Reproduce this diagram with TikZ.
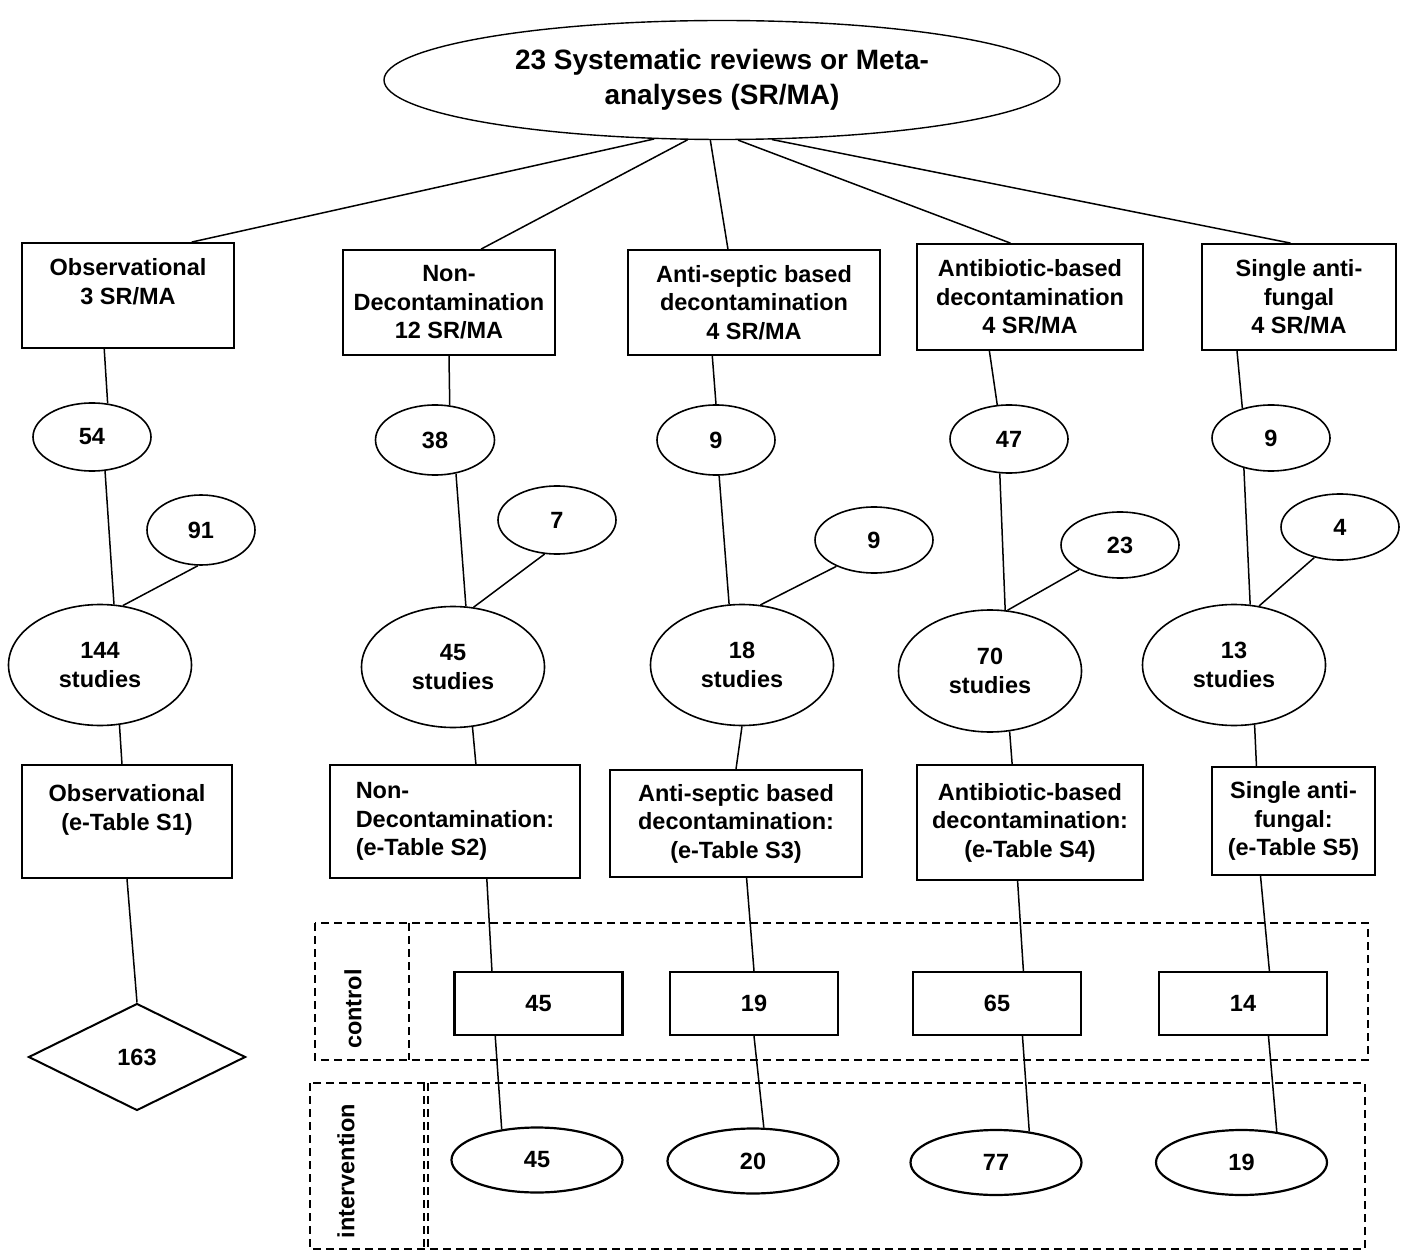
\documentclass[tikz,border=0pt]{standalone}
\usepackage{fontspec}
\setmainfont{Liberation Sans}
\usetikzlibrary{shapes.geometric}
\tikzset{
  box/.style={draw, line width=0.9pt, inner sep=0pt, align=center},
  oval/.style={draw, ellipse, line width=0.8pt, inner sep=0pt, align=center},
  num/.style={oval, minimum width=59pt, minimum height=34pt},
  stud/.style={oval, minimum width=91.5pt, minimum height=60.5pt},
  ctrl/.style={box, line width=1.1pt, minimum width=84pt, minimum height=31.5pt},
  intv/.style={oval, line width=1.1pt, minimum width=85.5pt, minimum height=32.5pt},
  link/.style={line width=0.75pt},
  zone/.style={dash pattern=on 4pt off 2.5pt, line width=0.6pt}
}

\begin{document}
\begin{tikzpicture}[x=0.5pt, y=-0.5pt, font=\bfseries\fontsize{11.75}{14.25}\selectfont]
\useasboundingbox (0,0) rectangle (1408,1251);

% dashed zones
\draw[zone] (315,923) rectangle (1368,1060);
\draw[zone] (409,923) -- (409,1060);
\draw[zone] (310,1083) rectangle (1365,1249);
\draw[zone] (424,1083) -- (424,1249);
\draw[zone] (428,1083) -- (428,1249);
\node[rotate=90] (lctrl) at (353,1009) {control};
\node[rotate=90] (lintv) at (346,1171) {intervention};

% top
\node[oval, line width=0.7pt, minimum width=338pt, minimum height=59.5pt,
  font=\bfseries\fontsize{14}{17.3}\selectfont] (top) at (722,80) {23 Systematic reviews or Meta-\\analyses (SR/MA)};

% groups
\node[box, minimum width=106pt, minimum height=52.5pt] (obs) at (128,295.5) {Observational\\3 SR/MA\\ \mbox{}};
\node[box, minimum width=106pt, minimum height=52.5pt] (ndec) at (449,302.5) {Non-\\Decontamination\\12 SR/MA};
\node[box, minimum width=126pt, minimum height=52.5pt] (asep) at (754,302.5) {Anti-septic based\\decontamination\\4 SR/MA};
\node[box, minimum width=113pt, minimum height=53pt] (abio) at (1030,297) {Antibiotic-based\\decontamination\\4 SR/MA};
\node[box, minimum width=97pt, minimum height=53pt] (sing) at (1299,297) {Single anti-\\fungal\\4 SR/MA};

% observational
\node[num] (n54) at (92,437) {54};
\node[oval, minimum width=54pt, minimum height=35pt] (n91) at (201,530) {91};
\node[stud] (s144) at (100,665) {144\\studies};
\node[box, minimum width=105pt, minimum height=56.5pt] (obsT) at (127,821.5) {Observational\\(e-Table S1)\\ \mbox{}};
\node[draw, diamond, line width=1pt, aspect=2, minimum width=108.5pt, minimum height=53.5pt, inner sep=0pt] (d163) at (137,1057) {163};

% non-decontamination
\node[num, minimum width=59.5pt, minimum height=35pt] (n38) at (435,440) {38};
\node[num] (n7) at (557,520) {7};
\node[stud] (s45) at (453,667) {45\\studies};
\node[box, align=left, minimum width=125pt, minimum height=56.5pt] (ndecT) at (455,821.5) {Non-\\Decontamination:\\(e-Table S2)};
\node[ctrl] (c45) at (538.5,1003.5) {45};
\node[intv] (i45) at (537,1160) {45};

% anti-septic
\node[num, minimum height=35pt] (n9a) at (716,440) {9};
\node[num, minimum height=33pt] (n9b) at (874,540) {9};
\node[stud] (s18) at (742,665) {18\\studies};
\node[box, minimum width=126pt, minimum height=53.5pt] (asepT) at (736,823.5) {Anti-septic based\\decontamination:\\(e-Table S3)};
\node[ctrl] (c19) at (754,1003.5) {19};
\node[intv] (i20) at (753,1161) {20};

% antibiotic
\node[num] (n47) at (1009,439) {47};
\node[num, minimum height=33pt] (n23) at (1120,545) {23};
\node[stud, minimum height=61pt] (s70) at (990,671) {70\\studies};
\node[box, minimum width=113pt, minimum height=57.5pt] (abioT) at (1030,822.5) {Antibiotic-based\\decontamination:\\(e-Table S4)};
\node[ctrl] (c65) at (997,1003.5) {65};
\node[intv] (i77) at (996,1162.5) {77};

% single anti-fungal
\node[num, minimum height=33pt] (n9c) at (1271,438) {9};
\node[num, minimum height=33pt] (n4) at (1340,527) {4};
\node[stud] (s13) at (1234,665) {13\\studies};
\node[box, minimum width=81.5pt, minimum height=54pt] (singT) at (1293.5,821) {Single anti-\\fungal:\\(e-Table S5)};
\node[ctrl] (c14) at (1243,1003.5) {14};
\node[intv] (i19) at (1241.5,1162.5) {19};

% links
\draw[link] (top.221.9) -- (obs.40.3);
\draw[link] (top.240.1) -- (ndec.59.4);
\draw[link] (top.259.5) -- (asep.116.3);
\draw[link] (top.285.1) -- (abio.110.7);
\draw[link] (top.310.9) -- (sing.99.6);

\draw[link] (obs.246.3) -- (n54.65.5);
\draw[link] (n54.291.4) -- (s144.77.7);
\draw[link] (n91.265) -- (s144.69.3);
\draw[link] (s144.288.9) -- (obsT.95.1);
\draw[link] (obsT.south) -- (d163.north);

\draw[link] (ndec.south) -- (n38.67.6);
\draw[link] (n38.302.7) -- (s45.78.7);
\draw[link] (n7.250.2) -- (s45.71.3);
\draw[link] (s45.288.7) -- (ndecT.70.5);
\draw[link] (ndecT.299.5) -- (c45.145.3);
\draw[link] (c45.217.2) -- (i45.139.2);

\draw[link] (asep.232.7) -- (n9a.north);
\draw[link] (n9a.275) -- (s18.102.3);
\draw[link] (n9b.215.9) -- (s18.73);
\draw[link] (s18.south) -- (asepT.north);
\draw[link] (asepT.281.6) -- (c19.north);
\draw[link] (c19.south) -- (i20.72);

\draw[link] (abio.233.6) -- (n47.109.8);
\draw[link] (n47.255) -- (s70.76);
\draw[link] (n23.211.3) -- (s70.74);
\draw[link] (s70.288.6) -- (abioT.107.4);
\draw[link] (abioT.258.2) -- (c65.51.6);
\draw[link] (c65.308.4) -- (i77.43.3);

\draw[link] (sing.221.9) -- (n9c.134);
\draw[link] (n9c.228.7) -- (s13.75);
\draw[link] (n4.230.1) -- (s13.67.7);
\draw[link] (s13.289.6) -- (singT.124);
\draw[link] (singT.239.7) -- (c14.51.6);
\draw[link] (c14.308.4) -- (i19.41.8);
\end{tikzpicture}
\end{document}
